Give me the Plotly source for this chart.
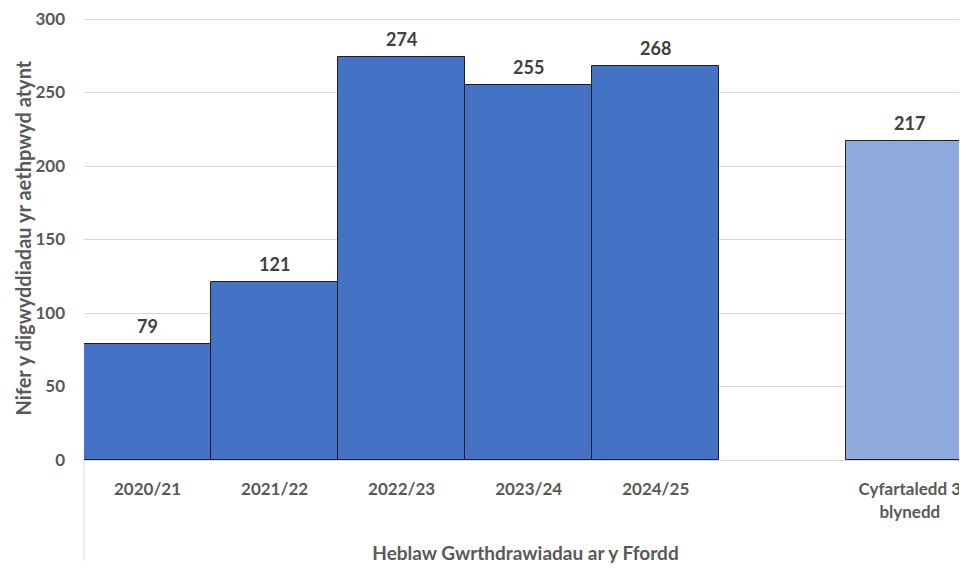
import plotly.graph_objects as go

# data
years = ["2020/21", "2021/22", "2022/23", "2023/24", "2024/25"]
year_values = [79, 121, 274, 255, 268]
avg_label = "Cyfartaledd 3<br>blynedd"
avg_value = 217
gap_label = " "
y_ticks = [0, 50, 100, 150, 200, 250, 300]

BLUE = "#4472C4"
LIGHT_BLUE = "#8FAADC"
OUTLINE = "#1f1f1f"
TXT = "#595959"
FONT = "Lato"

categories = years + [gap_label, avg_label]

fig = go.Figure()
fig.add_trace(go.Bar(
    x=years, y=year_values,
    marker=dict(color=BLUE, line=dict(color=OUTLINE, width=1)),
    showlegend=False, hoverinfo="x+y",
))
fig.add_trace(go.Bar(
    x=[avg_label], y=[avg_value],
    marker=dict(color=LIGHT_BLUE, line=dict(color=OUTLINE, width=1)),
    showlegend=False, hoverinfo="x+y",
))

# value labels above the bars
for cat, val in zip(years + [avg_label], year_values + [avg_value]):
    fig.add_annotation(x=cat, y=val, text=f"<b>{val}</b>", showarrow=False,
                       yanchor="bottom", yshift=5,
                       font=dict(size=18, color="#404040", family=FONT))

# y-axis title
fig.add_annotation(xref="paper", yref="paper", x=-0.086, y=0.49,
                   text="<b>Nifer y digwyddiadau yr aethpwyd atynt</b>",
                   textangle=-90, showarrow=False, xanchor="left", yanchor="middle",
                   font=dict(size=20, color=TXT, family=FONT))

# category divider below the axis (like Excel multi-level labels)
fig.add_shape(type="line", xref="paper", yref="paper", x0=0, x1=0, y0=0, y1=-0.222,
              line=dict(color="#d9d9d9", width=1))

fig.update_layout(
    width=959, height=560,
    barmode="overlay", bargap=0,
    plot_bgcolor="white", paper_bgcolor="white",
    font=dict(family=FONT, color=TXT),
    margin=dict(l=76, r=0, t=0, b=108),
    xaxis=dict(
        type="category", categoryorder="array", categoryarray=categories,
        range=[-0.5, 6.45], showgrid=False, ticks="", ticklabelstandoff=14,
        showline=True, linecolor="#d9d9d9", linewidth=1,
        tickfont=dict(size=17, color=TXT, family=FONT, weight="bold"),
        title=dict(text="<b>Heblaw Gwrthdrawiadau ar y Ffordd</b>",
                   font=dict(size=19, color=TXT, family=FONT), standoff=26),
        automargin=False,
    ),
    yaxis=dict(
        range=[0, 307.5], tickvals=y_ticks,
        showgrid=True, gridcolor="#d9d9d9",
        zeroline=False, showline=False, ticks="", ticklabelstandoff=18,
        ticklabeloverflow="allow",
        tickfont=dict(size=17, color=TXT, family=FONT, weight="bold"),
        automargin=False,
    ),
)

fig.write_html("out.html")
